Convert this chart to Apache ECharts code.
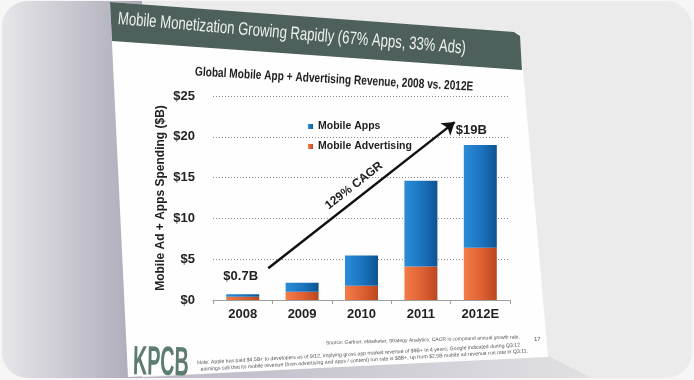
<!DOCTYPE html>
<html><head><meta charset="utf-8">
<script src="https://cdn.jsdelivr.net/npm/echarts@6/dist/echarts.min.js"></script>
<style>html,body{margin:0;padding:0;background:#f6f6f6}#c{width:694px;height:380px}</style>
</head><body><div id="c"></div>
<script>
// ---- data ----
const categories = ['2008', '2009', '2010', '2011', '2012E'];
const mobileApps = [0.3, 1.1, 3.7, 10.5, 12.6];
const mobileAds = [0.4, 1.0, 1.75, 4.1, 6.4];
const totalLabels = ['$0.7B', '', '', '', '$19B'];
const yTicks = [0, 5, 10, 15, 20, 25];
const cagrArrow = [[0.43, 3.9], [3.57, 21.8]];
const cagrText = '129% CAGR';
const seriesNames = ['Mobile Apps', 'Mobile Advertising'];

const FONT = '"Liberation Sans", Arial, sans-serif';
const chart = echarts.init(document.getElementById('c'), null, {renderer: 'canvas'});

const blue = new echarts.graphic.LinearGradient(0, 0, 1, 0, [
  {offset: 0, color: '#2c8cd8'}, {offset: 0.55, color: '#1a72bd'}, {offset: 1, color: '#0e5392'}]);
const orange = new echarts.graphic.LinearGradient(0, 0, 1, 0, [
  {offset: 0, color: '#f27c48'}, {offset: 0.55, color: '#dd6032'}, {offset: 1, color: '#bb471f'}]);

const option = {
  backgroundColor: '#f6f6f6',
  animation: false,
  graphic: [
    {type: 'rect', z: -20, shape: {x: 2, y: 1, width: 690, height: 377, r: 26}, style: {fill: '#ebebeb'}},
    {type: 'rect', z: -19, shape: {x: 2, y: 1, width: 140, height: 377, r: [26, 0, 0, 26]},
     style: {fill: new echarts.graphic.LinearGradient(0, 0, 1, 0, [{offset: 0, color: '#e6e6ea'}, {offset: 1, color: '#a9a8b6'}])}},
    {type: 'polygon', z: -18, shape: {points: [[128, 378], [548, 356], [592, 378]]},
     style: {fill: new echarts.graphic.LinearGradient(0, 0, 1, 0, [{offset: 0, color: '#b9b8c4'}, {offset: 1, color: '#e0e0e4'}])}},
    {type: 'polygon', z: -17, shape: {points: [[110, 2], [519, 33], [523, 70], [548, 357], [128, 377]]},
     style: {fill: '#fefefe'}},
    {type: 'polygon', z: -16, shape: {points: [[110, 2], [514, 32], [520, 36], [522, 70], [112, 41]]},
     style: {fill: '#4e605c'}},
    {type: 'text', z: 10, x: 118, y: 19, rotation: -0.085, scaleX: 0.73,
     style: {text: 'Mobile Monetization Growing Rapidly (67% Apps, 33% Ads)', font: '18px ' + FONT, fill: '#eef1ef', textAlign: 'left', textVerticalAlign: 'middle'}},
    {type: 'text', z: 10, x: 195, y: 72, rotation: -0.054, scaleX: 0.78,
     style: {text: 'Global Mobile App + Advertising Revenue, 2008 vs. 2012E', font: 'bold 13px ' + FONT, fill: '#222', textAlign: 'left', textVerticalAlign: 'middle'}},
    {type: 'text', z: 10, x: 520, y: 337, rotation: 0.031,
     style: {text: 'Source: Gartner, eMarketer, Strategy Analytics. CAGR is compound annual growth rate.', font: '5px ' + FONT, fill: '#555', textAlign: 'right', textVerticalAlign: 'middle'}},
    {type: 'text', z: 10, x: 520, y: 345, rotation: 0.055,
     style: {text: 'Note: Apple has paid $4.5B+ to developers as of 9/12, implying gross app market revenue of $9B+ in 4 years; Google indicated during Q3:12', font: '5.2px ' + FONT, fill: '#555', textAlign: 'right', textVerticalAlign: 'middle'}},
    {type: 'text', z: 10, x: 528, y: 351, rotation: 0.056,
     style: {text: 'earnings call that its mobile revenue (from advertising and apps / content) run rate is $8B+, up from $2.5B mobile ad revenue run rate in Q3:11.', font: '5.2px ' + FONT, fill: '#555', textAlign: 'right', textVerticalAlign: 'middle'}},
    {type: 'text', z: 10, x: 534, y: 339,
     style: {text: '17', font: '6px ' + FONT, fill: '#555', textAlign: 'left', textVerticalAlign: 'middle'}},
    {type: 'text', z: 10, x: 133, y: 363, rotation: -0.02, scaleX: 0.48,
     style: {text: 'KPCB', font: 'bold 41px ' + FONT, fill: '#5d7c72', textAlign: 'left', textVerticalAlign: 'middle'}}
  ],
  legend: {
    data: seriesNames, orient: 'vertical', left: 303, top: 116, itemWidth: 5, itemHeight: 5, itemGap: 9,
    icon: 'rect', textStyle: {fontFamily: FONT, fontWeight: 'bold', fontSize: 10.5, color: '#222'}
  },
  grid: {left: 213, right: 184, top: 96, bottom: 80},
  xAxis: [
    {type: 'category', data: categories,
     axisLine: {lineStyle: {color: '#a0a0a0'}},
     axisTick: {show: true, length: 4, lineStyle: {color: '#a0a0a0'}},
     axisLabel: {fontFamily: FONT, fontWeight: 'bold', fontSize: 13, color: '#222', margin: 8}},
    {type: 'value', min: -0.5, max: 4.5, show: false}
  ],
  yAxis: {
    type: 'value', min: yTicks[0], max: yTicks[yTicks.length - 1], interval: yTicks[1] - yTicks[0],
    axisLine: {show: false}, axisTick: {show: false},
    splitLine: {lineStyle: {type: [1, 2], color: '#8a8a8a', width: 1}},
    axisLabel: {formatter: v => '$' + v, fontFamily: FONT, fontWeight: 'bold', fontSize: 13, color: '#222', margin: 18},
    name: 'Mobile Ad + Apps Spending ($B)', nameLocation: 'middle', nameGap: 46,
    nameTextStyle: {fontFamily: FONT, fontWeight: 'bold', fontSize: 12, color: '#222'}
  },
  series: [
    {name: seriesNames[1], type: 'bar', stack: 'total', barWidth: 33, data: mobileAds,
     itemStyle: {color: orange}},
    {name: seriesNames[0], type: 'bar', stack: 'total', barWidth: 33,
     data: mobileApps.map((v, i) => ({
       value: v,
       label: {show: totalLabels[i] !== '', position: 'top', formatter: totalLabels[i], distance: i === 0 ? 11 : 8,
               offset: i === 0 ? [-2, 0] : [-9, 0],
               fontFamily: FONT, fontWeight: 'bold', fontSize: 13, color: '#222'}
     })),
     itemStyle: {color: blue}},
    {name: 'arrow', type: 'line', xAxisIndex: 1, data: cagrArrow, symbol: 'none', silent: true,
     lineStyle: {opacity: 0},
     markLine: {silent: true, symbol: ['none', 'arrow'], symbolSize: 12,
       lineStyle: {color: '#111', width: 2.5, type: 'solid'},
       label: {show: true, formatter: cagrText, position: 'middle', distance: 6,
               fontFamily: FONT, fontWeight: 'bold', fontSize: 12, color: '#222'},
       data: [[{coord: cagrArrow[0]}, {coord: cagrArrow[1]}]]}}
  ]
};
chart.setOption(option);
</script>
</body></html>
